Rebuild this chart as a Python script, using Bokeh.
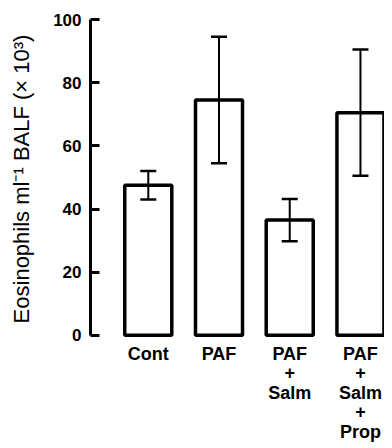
from bokeh.plotting import figure
from bokeh.models import ColumnDataSource, Whisker, TeeHead, FixedTicker, Range1d
from bokeh.embed import file_html
from bokeh.resources import INLINE

categories = ["Cont", "PAF", "PAF\n+\nSalm", "PAF\n+\nSalm\n+\nProp"]
means = [47.5, 74.5, 36.5, 70.5]
errors = [4.5, 20.0, 6.7, 20.0]
y_ticks = [0, 20, 40, 60, 80, 100]

FONT = "Liberation Sans"
bar_w = 0.665
xs = list(range(len(categories)))

src = ColumnDataSource(dict(
    x=xs,
    top=means,
    upper=[m + e for m, e in zip(means, errors)],
    lower=[m - e for m, e in zip(means, errors)],
))

p = figure(width=384, height=446, output_backend="svg", toolbar_location=None,
           x_range=Range1d(-0.817, 3.34), y_range=Range1d(-1.0, 100),
           min_border_left=90, min_border_right=0, min_border_top=19,
           min_border_bottom=108)
p.outline_line_color = None
p.xgrid.visible = False
p.ygrid.visible = False

p.vbar(x="x", top="top", bottom=0, width=bar_w, source=src,
       fill_color="white", line_color="black", line_width=3.5)

w = Whisker(base="x", upper="upper", lower="lower", source=src, level="overlay",
            line_color="black", line_width=2,
            upper_head=TeeHead(size=16, line_width=2.5, line_color="black"),
            lower_head=TeeHead(size=16, line_width=2.5, line_color="black"))
p.add_layout(w)

yax = p.yaxis[0]
yax.ticker = FixedTicker(ticks=y_ticks)
yax.bounds = (0, 100)
yax.axis_line_width = 3
yax.axis_line_color = "black"
yax.major_tick_in = 9
yax.major_tick_out = 0
yax.major_tick_line_width = 3
yax.minor_tick_line_color = None
yax.major_label_text_font = FONT
yax.major_label_text_font_size = "17px"
yax.major_label_text_font_style = "bold"
yax.major_label_text_color = "black"
yax.major_label_standoff = 9
yax.axis_label = "Eosinophils ml\u207b\u00b9 BALF (\u00d7 10\u00b3)"
yax.axis_label_text_font = FONT
yax.axis_label_text_font_size = "22px"
yax.axis_label_text_font_style = "normal"
yax.axis_label_text_color = "black"
yax.axis_label_standoff = 16

xax = p.xaxis[0]
xax.ticker = FixedTicker(ticks=xs)
xax.major_label_overrides = {i: c for i, c in zip(xs, categories)}
xax.axis_line_color = None
xax.major_tick_line_color = None
xax.minor_tick_line_color = None
xax.major_tick_in = 0
xax.major_tick_out = 0
xax.major_label_standoff = 5
xax.major_label_text_font = FONT
xax.major_label_text_font_size = "18px"
xax.major_label_text_font_style = "bold"
xax.major_label_text_color = "black"
xax.major_label_text_line_height = 0.98

open("out.html", "w").write(file_html(p, INLINE))
